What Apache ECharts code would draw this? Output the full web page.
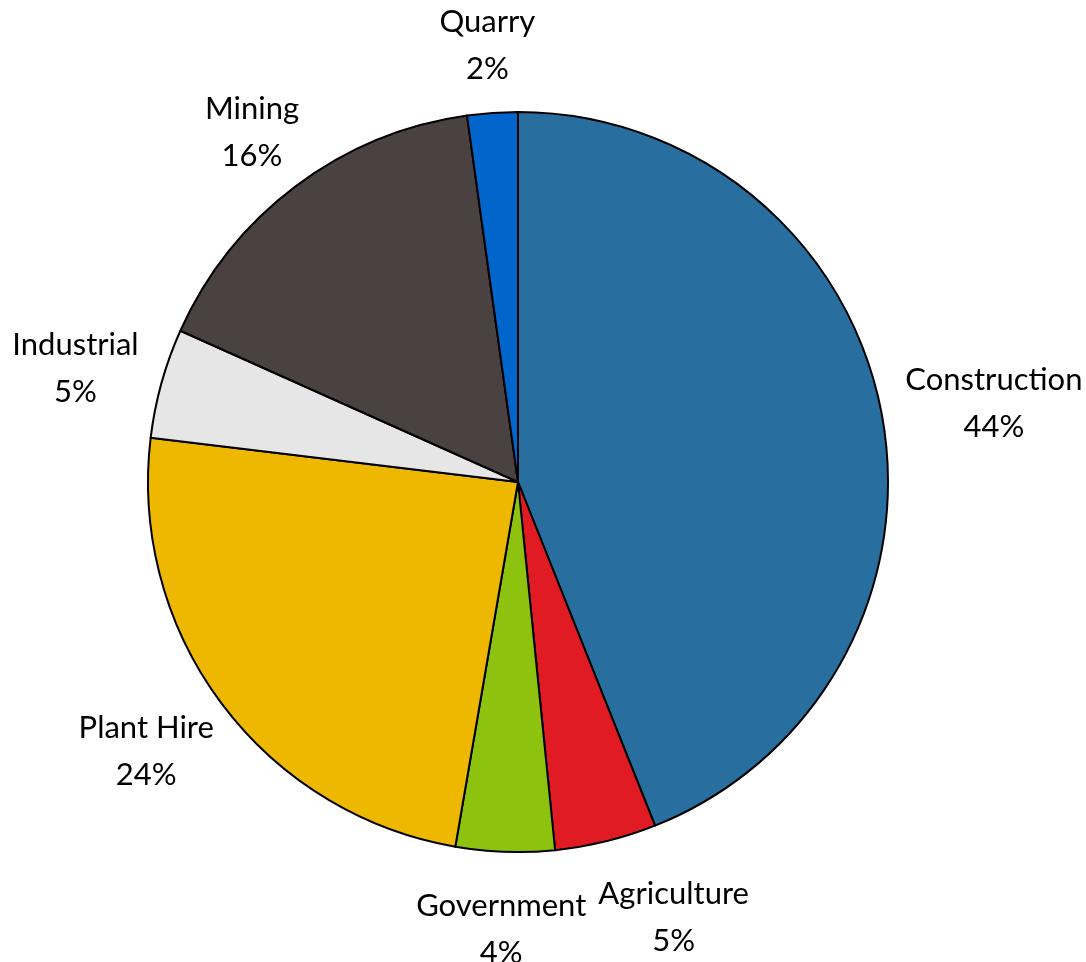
<!DOCTYPE html>
<html>
<head>
<meta charset="utf-8">
<script src="https://cdn.jsdelivr.net/npm/echarts@6/dist/echarts.min.js"></script>
<style>
html,body{margin:0;padding:0;background:#fff;}
#chart{width:1086px;height:962px;}
</style>
</head>
<body>
<div id="chart"></div>
<script>
const categories = ['Construction', 'Agriculture', 'Government', 'Plant Hire', 'Industrial', 'Mining', 'Quarry'];
const values = [43.97, 4.44, 4.31, 24.2, 4.8, 16.1, 2.2];
const colors = ['#286FA0', '#E11B24', '#8DC30F', '#EFB800', '#E6E6E6', '#4A4141', '#0066CC'];

const CX = 518, CY = 482, R = 370, GAP = 26, DY = 5;
const FONT = 'Lato, "Open Sans", sans-serif';
const FS = 31, LH = 47;

const total = values.reduce((a, b) => a + b, 0);
const pcts = values.map(v => Math.round(v / total * 100));

// measure label boxes
const ctx = document.createElement('canvas').getContext('2d');
ctx.font = FS + 'px ' + FONT;
const boxes = [];
let acc = 0;
values.forEach((v, i) => {
  const t = (acc + v / 2) / total * Math.PI * 2; acc += v;
  const w = Math.max(ctx.measureText(categories[i]).width, ctx.measureText(pcts[i] + '%').width);
  const h = LH * 2;
  const dx = Math.sin(t), dy = -Math.cos(t);
  const px = CX + dx * (R + GAP), py = CY + dy * (R + GAP);
  boxes.push({ x: px + dx * w / 2, y: py + dy * h / 2 + DY, w: w, h: h });
});
// simple overlap resolution: push label away horizontally from its neighbour
for (let i = 1; i < boxes.length; i++) {
  const a = boxes[i - 1], b = boxes[i];
  const ovY = Math.abs(a.y - b.y) < (a.h + b.h) / 2 - 20;
  const need = (a.w + b.w) / 2 + 12;
  if (ovY && Math.abs(a.x - b.x) < need) {
    a.x = b.x + (a.x > b.x ? need : -need);
  }
}

const chart = echarts.init(document.getElementById('chart'));
chart.setOption({
  backgroundColor: '#ffffff',
  animation: false,
  series: [{
    type: 'pie',
    center: [CX, CY],
    radius: R,
    startAngle: 90,
    clockwise: true,
    percentPrecision: 0,
    data: categories.map((n, i) => ({ name: n, value: values[i], itemStyle: { color: colors[i] } })),
    itemStyle: { borderColor: '#000', borderWidth: 2 },
    label: {
      show: true,
      position: 'outside',
      formatter: '{b}\n{d}%',
      fontFamily: FONT,
      fontSize: FS,
      lineHeight: LH,
      color: '#000',
      align: 'center',
      overflow: 'none'
    },
    labelLine: { show: false },
    labelLayout: function (p) {
      const b = boxes[p.dataIndex];
      return { x: b.x, y: b.y, align: 'center', verticalAlign: 'middle' };
    },
    emphasis: { disabled: true }
  }]
});
</script>
</body>
</html>
